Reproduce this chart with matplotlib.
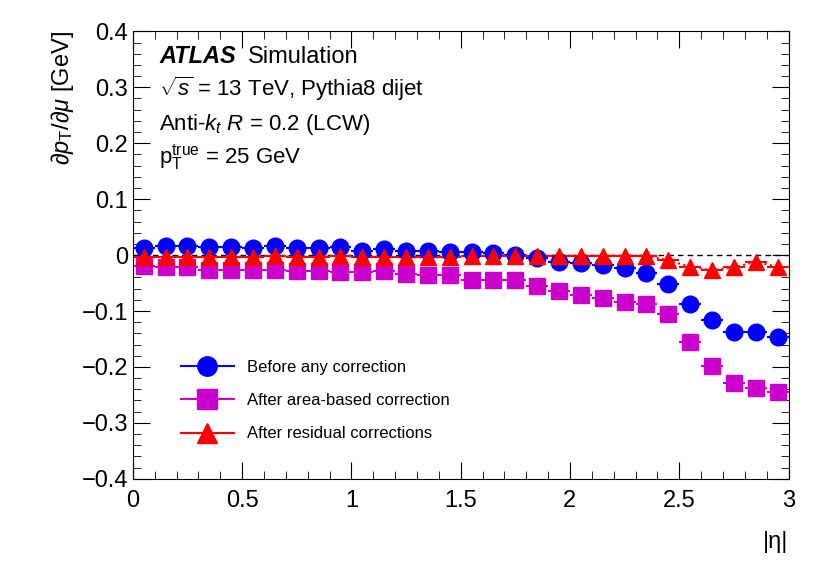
import numpy as np
import matplotlib
matplotlib.use("Agg")
import matplotlib.pyplot as plt
from matplotlib.ticker import MultipleLocator
from matplotlib.lines import Line2D

plt.rcParams["font.family"] = "Liberation Sans"
plt.rcParams["mathtext.fontset"] = "custom"
plt.rcParams["mathtext.rm"] = "Liberation Sans"
plt.rcParams["mathtext.it"] = "Liberation Sans:italic"

eta = [0.05 + 0.1 * i for i in range(30)]
before = [0.012, 0.017, 0.016, 0.015, 0.014, 0.012, 0.016, 0.012, 0.012, 0.014,
          0.008, 0.010, 0.008, 0.008, 0.006, 0.005, 0.003, 0.001, -0.006, -0.013,
          -0.015, -0.018, -0.024, -0.032, -0.052, -0.088, -0.116, -0.137, -0.138, -0.146]
area = [-0.019, -0.022, -0.021, -0.026, -0.026, -0.026, -0.027, -0.029, -0.029, -0.031,
        -0.030, -0.029, -0.033, -0.035, -0.036, -0.045, -0.045, -0.045, -0.055, -0.064,
        -0.071, -0.077, -0.084, -0.087, -0.105, -0.155, -0.198, -0.229, -0.237, -0.245]
resid = [-0.004, -0.003, -0.003, -0.004, -0.003, -0.003, -0.001, -0.003, -0.003, -0.001,
         -0.004, -0.003, -0.004, -0.004, -0.004, -0.001, -0.001, -0.001, -0.001, -0.001,
         -0.001, -0.001, -0.001, -0.001, -0.009, -0.021, -0.027, -0.022, -0.012, -0.021]
labels = ["Before any correction", "After area-based correction", "After residual corrections"]
colors = ["#0000ff", "#cc00cc", "#ff0000"]
markers = ["o", "s", "^"]

fig = plt.figure(figsize=(8.3, 5.7), dpi=100)
ax = fig.add_axes([0.16, 0.16, 0.79, 0.785])
ax.axhline(0, color="black", ls=(0, (4, 3)), lw=1)
ax.plot(eta, resid, ls=":", color="#ff0000", lw=1.5)
for ys, c, m in zip([before, area, resid], colors, markers):
    ax.errorbar(eta, ys, xerr=0.05, fmt=m, color=c, ms=12, lw=1.5, capsize=0)

ax.set_xlim(0, 3)
ax.set_ylim(-0.4, 0.4)
ax.xaxis.set_minor_locator(MultipleLocator(0.1))
ax.yaxis.set_minor_locator(MultipleLocator(0.02))
ax.tick_params(which="both", direction="in", top=True, right=True, labelsize=17)
ax.tick_params(which="major", length=12)
ax.tick_params(which="minor", length=6)
ax.set_yticks(np.arange(-0.4, 0.41, 0.1))
ax.set_yticklabels(["\u22120.4", "\u22120.3", "\u22120.2", "\u22120.1", "0", "0.1", "0.2", "0.3", "0.4"])
ax.set_xticks([0, 0.5, 1, 1.5, 2, 2.5, 3])
ax.set_xticklabels(["0", "0.5", "1", "1.5", "2", "2.5", "3"])
ax.tick_params(axis="x", pad=8)

ax.set_xlabel("|\u03b7|", fontsize=17, loc="right", labelpad=14)
ax.set_ylabel(r"$\partial p_{\rm T}/\partial\mu$ [GeV]", fontsize=17, loc="top")

ax.text(0.04, 0.93, "ATLAS", transform=ax.transAxes, fontsize=17, fontweight="bold", style="italic")
ax.text(0.175, 0.93, "Simulation", transform=ax.transAxes, fontsize=17)
ax.text(0.04, 0.855, r"$\sqrt{s}$ = 13 TeV, Pythia8 dijet", transform=ax.transAxes, fontsize=16)
ax.text(0.04, 0.78, r"Anti-$k_t$ $R$ = 0.2 (LCW)", transform=ax.transAxes, fontsize=16)
ax.text(0.04, 0.705, r"p$_{\rm T}^{\rm true}$ = 25 GeV", transform=ax.transAxes, fontsize=16)

handles = [Line2D([], [], color=c, marker=m, ms=14, lw=1.5) for c, m in zip(colors, markers)]
ax.legend(handles, labels, loc="lower left", bbox_to_anchor=(0.05, 0.05), frameon=False,
          fontsize=12, labelspacing=1.1, handlelength=3.2)
fig.savefig("out.png", dpi=100)
